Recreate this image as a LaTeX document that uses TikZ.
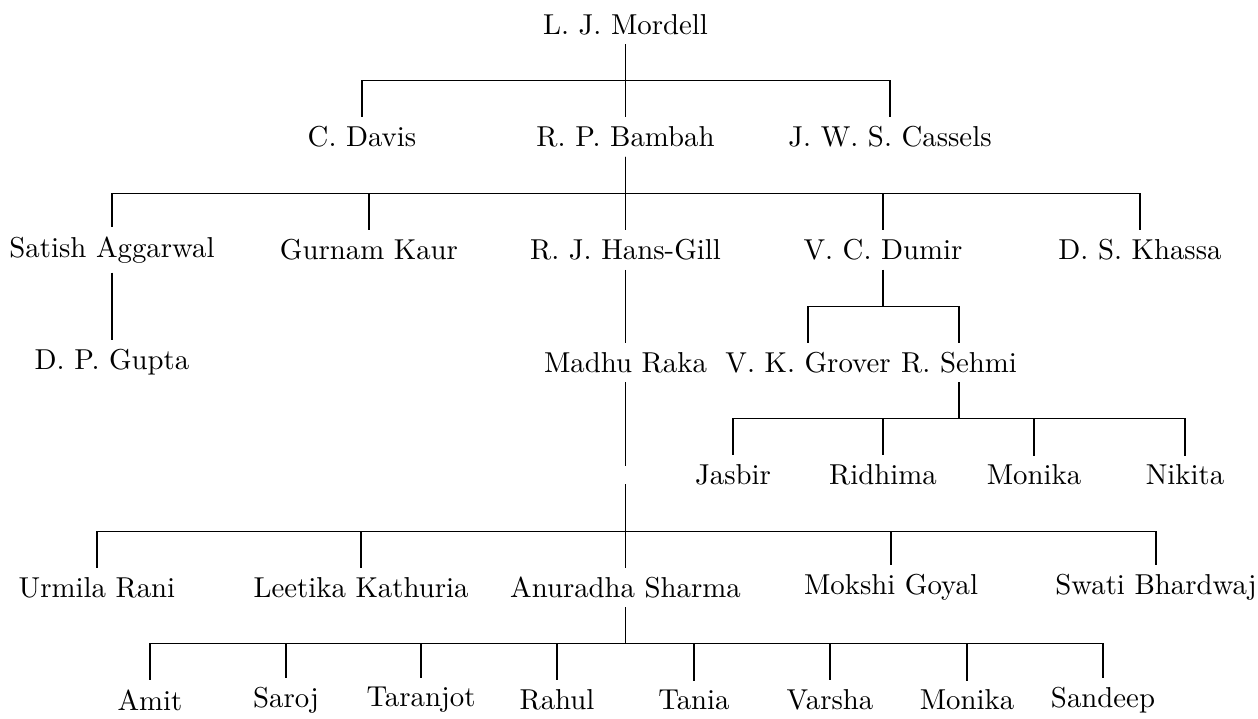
\documentclass[tikz,border=0pt]{standalone}
\usetikzlibrary{calc}
\begin{document}
\begin{tikzpicture}[x=0.3802pt,y=-0.3802pt,
  every node/.style={font=\fontsize{10.95}{13.6}\selectfont},
  person/.style={},
  link/.style={line width=0.4pt}]
\useasboundingbox (0,0) rectangle (1258,718);
% level 0
\node[person] (mordell) at (625.5,24.5) {L. J. Mordell};
% level 1
\node[person] (davis)   at (362,137)   {C. Davis};
\node[person] (bambah)  at (625.5,137) {R. P. Bambah};
\node[person] (cassels) at (890,137)   {J. W. S. Cassels};
% level 2
\node[person] (satish)   at (112,250)   {Satish Aggarwal};
\node[person] (gurnam)   at (369,250)   {Gurnam Kaur};
\node[person] (hansgill) at (625.5,250) {R. J. Hans-Gill};
\node[person] (dumir)    at (883,250)   {V. C. Dumir};
\node[person] (khassa)   at (1140,250)  {D. S. Khassa};
% level 3
\node[person] (gupta)  at (112,362.5)   {D. P. Gupta};
\node[person] (raka)   at (625.5,362.5) {Madhu Raka};
\node[person] (grover) at (808,362.5)   {V. K. Grover};
\node[person] (sehmi)  at (959,362.5)   {R. Sehmi};
% level 4
\node[person] (gap)     at (625.5,475) {};
\node[person] (jasbir)  at (733,475)   {Jasbir};
\node[person] (ridhima) at (883,475)   {Ridhima};
\node[person] (monikaA) at (1034,475)  {Monika};
\node[person] (nikita)  at (1185,475)  {Nikita};
% level 5
\node[person] (urmila)   at (97,587.5)    {Urmila Rani};
\node[person] (leetika)  at (361,587.5)   {Leetika Kathuria};
\node[person] (anuradha) at (625.5,587.5) {Anuradha Sharma};
\node[person] (mokshi)   at (891,587.5)   {Mokshi Goyal};
\node[person] (swati)    at (1156,587.5)  {Swati Bhardwaj};
% level 6
\node[person] (amit)     at (150,700)  {Amit};
\node[person] (saroj)    at (286,700)  {Saroj};
\node[person] (taranjot) at (421,700)  {Taranjot};
\node[person] (rahul)    at (557,700)  {Rahul};
\node[person] (tania)    at (694,700)  {Tania};
\node[person] (varsha)   at (830,700)  {Varsha};
\node[person] (monikaB)  at (967,700)  {Monika};
\node[person] (sandeep)  at (1103,700) {Sandeep};
% connectors
\foreach \p/\c in {mordell/davis, mordell/bambah, mordell/cassels,
  bambah/satish, bambah/gurnam, bambah/hansgill, bambah/dumir, bambah/khassa,
  satish/gupta, hansgill/raka, dumir/grover, dumir/sehmi, raka/gap,
  sehmi/jasbir, sehmi/ridhima, sehmi/monikaA, sehmi/nikita,
  gap/urmila, gap/leetika, gap/anuradha, gap/mokshi, gap/swati,
  anuradha/amit, anuradha/saroj, anuradha/taranjot, anuradha/rahul,
  anuradha/tania, anuradha/varsha, anuradha/monikaB, anuradha/sandeep}
  \draw[link] (\p.south) |- ($(\p)!0.5!(\c)$) -| (\c.north);
\end{tikzpicture}
\end{document}
